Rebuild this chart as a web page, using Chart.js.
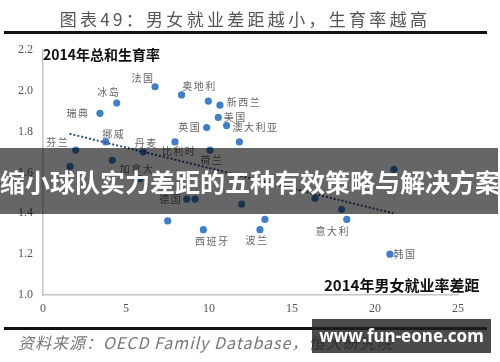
<!DOCTYPE html>
<html>
<head>
<meta charset="utf-8">
<script src="https://cdn.jsdelivr.net/npm/chart.js@4"></script>
<style>
  body { margin: 0; background: #fff; }
  #wrap { position: relative; width: 500px; height: 362px; overflow: hidden; background: #fff; }
  #wrap canvas { position: absolute; left: 0; top: 0; }
  .txt { position: absolute; white-space: nowrap; font-family: "Noto Sans CJK SC", sans-serif; }
  .rule { position: absolute; background: #111; }
</style>
</head>
<body>
<div id="wrap">
  <canvas id="chart" width="500" height="362"></canvas>
  <div class="txt" style="top:6px;left:0;width:490px;text-align:center;font-size:17px;color:#555;letter-spacing:3.3px;">图表49：男女就业差距越小，生育率越高</div>
  <div class="rule" style="top:31px;left:4px;width:483px;height:3px;"></div>
  <div class="txt" style="top:44px;left:43px;font-size:14px;font-weight:bold;color:#111;">2014年总和生育率</div>
  <div class="txt" style="top:274px;left:324px;font-size:15px;font-weight:bold;color:#111;">2014年男女就业率差距</div>
  <div class="rule" style="top:327px;left:4px;width:483px;height:3px;"></div>
  <div class="txt" style="top:330px;left:18px;font-size:16px;font-style:italic;color:#777;letter-spacing:1px;">资料来源：OECD Family Database，恒大研究院</div>
  <div class="txt" style="top:148px;left:0;width:498px;height:66px;line-height:66px;background:rgba(0,0,0,0.6);color:#fff;font-size:25px;font-weight:bold;">缩小球队实力差距的五种有效策略与解决方案</div>
  <div class="txt" style="top:319px;left:312px;width:179px;height:34px;line-height:34px;text-align:center;background:rgba(30,30,30,0.8);color:#fff;font-size:17px;font-weight:bold;font-family:'Noto Sans',sans-serif;">www.fun-eone.com</div>
</div>
<script>
// 2014年男女就业率差距（x）与总和生育率（y）
const gapX = [1.97, 3.43, 4.44, 3.78, 6.04, 6.75, 8.35, 9.96, 10.66, 10.56, 11.06, 9.86, 11.83, 7.95, 10.06,
              1.63, 4.17, 5.84, 8.66, 9.16, 11.97, 16.39, 17.99, 21.14, 7.51, 9.66, 13.37, 13.07, 18.3, 20.9];
const tfrY = [1.71, 1.89, 1.94, 1.75, 1.70, 2.02, 1.98, 1.95, 1.93, 1.87, 1.83, 1.82, 1.75, 1.75, 1.71,
              1.63, 1.66, 1.57, 1.47, 1.47, 1.445, 1.474, 1.42, 1.615, 1.363, 1.32, 1.37, 1.32, 1.37, 1.20];
const names = ["芬兰", "瑞典", "冰岛", "挪威", "丹麦", "法国", "奥地利", "", "新西兰", "美国", "澳大利亚", "英国", "", "比利时", "荷兰",
               "", "", "加拿大", "德国", "", "", "", "", "", "", "西班牙", "", "波兰", "意大利", "韩国"];
// 趋势线两端
const trendX = [1.6, 21.1];
const trendY = [1.79, 1.40];
// 坐标轴刻度
const xTicks = [0, 5, 10, 15, 20, 25];
const yTicks = [1.0, 1.2, 1.4, 1.6, 1.8, 2.0, 2.2];

// 标签相对点的偏移（像素）
const labelOffsets = [[-18, -8], [-22, 0], [-8, -11], [8, -8], [3, -9], [-12, -9], [18, -9], [0, 0], [24, -3], [17, 0], [29, 2], [-17, 0], [0, 0], [4, 9], [2, 10],
                      [0, 0], [0, 0], [-3, -9], [-16, 0], [0, 0], [0, 0], [0, 0], [0, 0], [0, 0], [0, 0], [9, 12], [0, 0], [-3, 11], [-14, 12], [15, 0]];

const pointLabels = {
    id: "pointLabels",
    afterDatasetsDraw(chart) {
        const ctx = chart.ctx;
        const meta = chart.getDatasetMeta(1);
        ctx.save();
        ctx.font = "10px 'Noto Sans CJK SC', sans-serif";
        ctx.fillStyle = "#666";
        ctx.textAlign = "center";
        ctx.textBaseline = "middle";
        ctx.letterSpacing = "1.5px";
        meta.data.forEach((pt, i) => {
            if (!names[i]) return;
            ctx.fillText(names[i], pt.x + labelOffsets[i][0], pt.y + labelOffsets[i][1]);
        });
        ctx.restore();
    },
};

const ctx = document.getElementById("chart").getContext("2d");
new Chart(ctx, {
    type: "scatter",
    data: {
        datasets: [
            {
                type: "line",
                data: trendX.map((x, i) => ({ x: x, y: trendY[i] })),
                borderColor: "#2b4c7e",
                borderWidth: 2,
                borderDash: [2, 2],
                pointRadius: 0,
                fill: false,
            },
            {
                data: gapX.map((x, i) => ({ x: x, y: tfrY[i] })),
                backgroundColor: "#3f7ec8",
                borderWidth: 0,
                pointRadius: 3.6,
            },
        ],
    },
    options: {
        responsive: false,
        animation: false,
        layout: { padding: { top: 50, right: 42, left: 0, bottom: 0 } },
        plugins: { legend: { display: false }, tooltip: { enabled: false } },
        scales: {
            x: {
                type: "linear",
                min: 0,
                max: 25,
                afterFit: (s) => { s.height = 67; },
                afterBuildTicks: (s) => { s.ticks = xTicks.map((v) => ({ value: v })); },
                grid: { display: false, drawTicks: false },
                border: { display: true, color: "#c4c4c4", width: 1.5 },
                ticks: { padding: 7, color: "#555", font: { family: "Liberation Serif", size: 12 } },
            },
            y: {
                min: 1.0,
                max: 2.2,
                afterFit: (s) => { s.width = 43; },
                afterBuildTicks: (s) => { s.ticks = yTicks.map((v) => ({ value: v })); },
                grid: { display: false, drawTicks: false },
                border: { display: true, color: "#c4c4c4", width: 1.5 },
                ticks: {
                    padding: 10,
                    color: "#555",
                    font: { family: "Liberation Serif", size: 12 },
                    callback: (v) => Number(v).toFixed(1),
                },
            },
        },
    },
    plugins: [pointLabels],
});
</script>
</body>
</html>
